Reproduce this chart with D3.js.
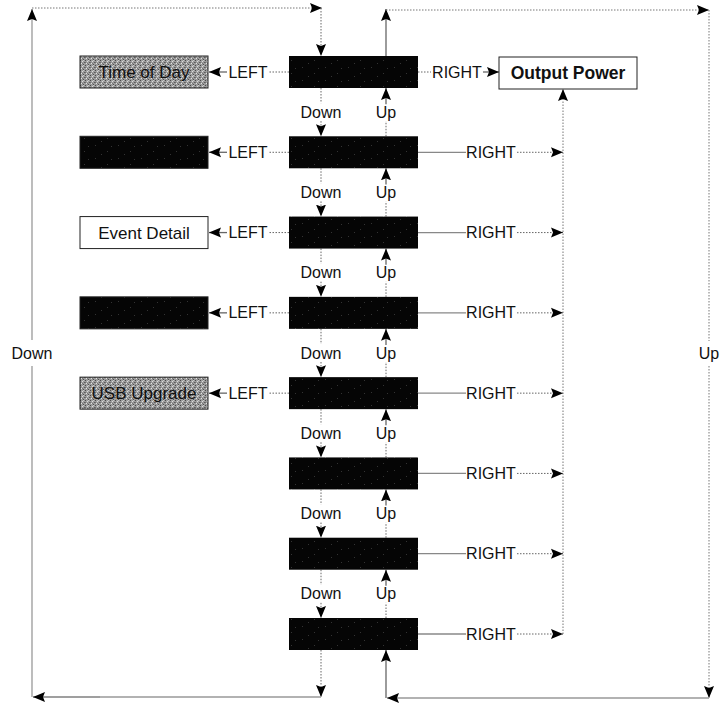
<!DOCTYPE html>
<html>
<head>
<meta charset="utf-8">
<script src="https://cdn.jsdelivr.net/npm/d3@7"></script>
<style>
body { margin: 0; background: #fff; }
text { font-family: "Liberation Sans", Arial, sans-serif; fill: #111; }
</style>
</head>
<body>
<svg id="chart" width="725" height="703"></svg>
<script>
// menu rows (center column), top to bottom
var rows = [0, 1, 2, 3, 4, 5, 6, 7];
// boxes reached with LEFT from the first five rows
var leftLabels = ["Time of Day", "", "Event Detail", "", "USB Upgrade"];
var leftKinds = ["gray", "black", "white", "black", "gray"];
var rightTarget = "Output Power";
var stepLabels = { down: "Down", up: "Up", left: "LEFT", right: "RIGHT" };

var svg = d3.select("#chart");
var defs = svg.append("defs");

defs.append("marker")
  .attr("id", "head")
  .attr("viewBox", "0 -6 12 12")
  .attr("refX", 12).attr("refY", 0)
  .attr("markerWidth", 12).attr("markerHeight", 12)
  .attr("markerUnits", "userSpaceOnUse")
  .attr("orient", "auto")
  .append("path").attr("d", "M0,-5L12,0L0,5L2,0Z").attr("fill", "#000");

// halftone for the grey boxes
var ht = defs.append("pattern").attr("id", "halftone")
  .attr("width", 5).attr("height", 5).attr("patternUnits", "userSpaceOnUse");
ht.append("rect").attr("width", 5).attr("height", 5).attr("fill", "#9c9c9c");
[[0,0,"#4a4a4a"],[2,1,"#dcdcdc"],[4,2,"#5c5c5c"],[1,3,"#e2e2e2"],[3,4,"#505050"],[3,0,"#c8c8c8"],[0,2,"#707070"],[2,3,"#777"]].forEach(function(p){
  ht.append("rect").attr("x", p[0]).attr("y", p[1]).attr("width", 1).attr("height", 1).attr("fill", p[2]);
});

// dark boxes with a faint speckle
var dk = defs.append("pattern").attr("id", "dark")
  .attr("width", 23).attr("height", 13).attr("patternUnits", "userSpaceOnUse");
dk.append("rect").attr("width", 23).attr("height", 13).attr("fill", "#050505");
[[3,2],[15,8],[19,3],[9,11]].forEach(function(p){
  dk.append("rect").attr("x", p[0]).attr("y", p[1]).attr("width", 1).attr("height", 1).attr("fill", "#333");
});

var y = d3.scaleLinear().domain([0, rows.length - 1]).range([56, 618]);
var boxH = 32;
var cx0 = 289, cx1 = 418;      // center column
var lx0 = 80, lx1 = 208;       // left column
var downX = 321, upX = 386;
var outX = 563;
var line = d3.line();

function seg(pts, dotted, arrow, color) {
  var p = svg.append("path")
    .attr("d", line(pts))
    .attr("fill", "none")
    .attr("stroke", color || (dotted ? "#666" : "#777"))
    .attr("stroke-width", dotted ? 1 : 1.3);
  if (dotted) p.attr("stroke-dasharray", "1.5,1.5");
  if (arrow) p.attr("marker-end", "url(#head)");
  return p;
}
function label(x, yy, t, size, weight) {
  svg.append("text").attr("x", x).attr("y", yy).attr("dy", "0.35em")
    .attr("text-anchor", "middle")
    .style("font-size", (size || 16) + "px")
    .style("font-weight", weight || "normal")
    .text(t);
}

// Down / Up between rows
rows.slice(0, -1).forEach(function(i) {
  var b = y(i) + boxH, t = y(i + 1), m = (b + t) / 2;
  seg([[downX, b], [downX, m - 9]], true, false);
  label(downX, m, stepLabels.down);
  seg([[downX, m + 9], [downX, t]], true, true);
  seg([[upX, t], [upX, m + 9]], true, false);
  label(upX, m, stepLabels.up);
  seg([[upX, m - 8], [upX, b]], false, true, "#666");
});

// center boxes
svg.selectAll("rect.menu").data(rows).enter().append("rect")
  .attr("class", "menu")
  .attr("x", cx0).attr("y", function(d) { return y(d); })
  .attr("width", cx1 - cx0).attr("height", boxH)
  .attr("fill", "url(#dark)");

// LEFT branches
leftLabels.forEach(function(name, i) {
  var cy = y(i) + boxH / 2;
  seg([[cx0, cy], [269, cy]], true, false);
  label(248, cy, stepLabels.left);
  seg([[227, cy], [lx1 + 1, cy]], false, true, "#666");
  var kind = leftKinds[i];
  svg.append("rect")
    .attr("x", lx0).attr("y", y(i))
    .attr("width", lx1 - lx0).attr("height", boxH)
    .attr("fill", kind === "gray" ? "url(#halftone)" : kind === "black" ? "url(#dark)" : "#fff")
    .attr("stroke", "#222").attr("stroke-width", 1);
  if (name) label((lx0 + lx1) / 2, y(i) + boxH / 2, name, 17);
});

// RIGHT branches
rows.forEach(function(i) {
  var cy = y(i) + boxH / 2;
  if (i === 0) {
    seg([[cx1, cy], [431, cy]], true, false);
    label(457, cy, stepLabels.right);
    seg([[483, cy], [499, cy]], false, true, "#666");
  } else {
    seg([[cx1, cy], [466, cy]], false, false, "#888");
    label(491, cy, stepLabels.right);
    seg([[517, cy], [outX, cy]], true, true);
  }
});

// Output Power box and its return path
svg.append("rect").attr("x", 499).attr("y", 57).attr("width", 138).attr("height", 32)
  .attr("fill", "#fff").attr("stroke", "#222").attr("stroke-width", 1);
label(568, 73, rightTarget, 17.5, "bold");
seg([[outX, y(rows.length - 1) + boxH / 2], [outX, 89]], true, true, "#777");

// outer loop on the left: Down from the last row wraps to the first
var last = y(rows.length - 1) + boxH;
seg([[downX, last], [downX, 697]], true, true);
seg([[downX, 697], [33, 697]], false, false, "#999");
seg([[100, 697], [33, 697]], false, true, "#999");
seg([[32, 697], [32, 366]], false, false, "#999");
label(32, 353, stepLabels.down);
seg([[32, 340], [32, 9]], false, true, "#999");
seg([[32, 8], [322, 8]], true, true, "#777");
seg([[downX, 8], [downX, y(0)]], true, true);

// outer loop on the right: Up from the first row wraps to the last
seg([[upX, y(0)], [upX, 9]], false, true, "#666");
seg([[upX, 10], [709, 10]], true, true, "#777");
seg([[709, 10], [709, 341]], true, false, "#777");
label(709, 353, stepLabels.up);
seg([[709, 366], [709, 698]], true, true, "#777");
seg([[709, 698], [387, 698]], false, true, "#999");
seg([[upX, 698], [upX, last]], false, true, "#666");
</script>
</body>
</html>
